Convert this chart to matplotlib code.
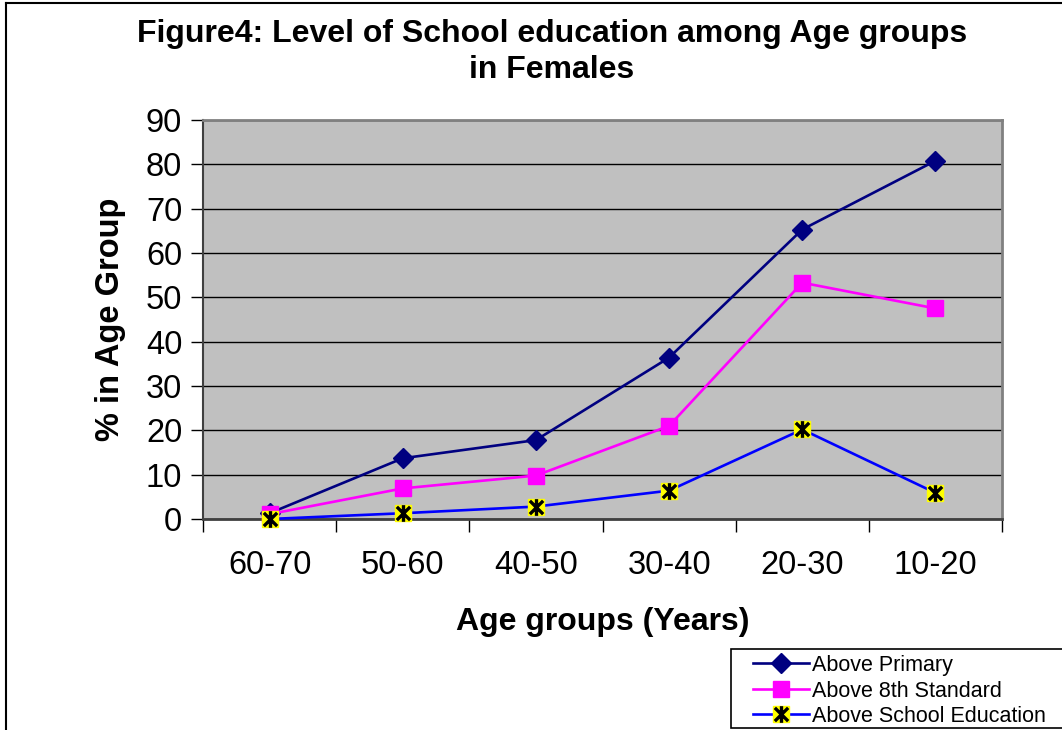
import matplotlib
matplotlib.use("Agg")
import matplotlib.pyplot as plt
from matplotlib.lines import Line2D
from matplotlib.patches import Rectangle
from matplotlib.path import Path
import numpy as np

plt.rcParams['font.family'] = ['Liberation Sans', 'DejaVu Sans']

age_groups = ["60-70", "50-60", "40-50", "30-40", "20-30", "10-20"]
above_primary = [1.3, 13.7, 17.8, 36.4, 65.3, 80.8]
above_8th = [1.1, 6.9, 9.8, 21.0, 53.3, 47.5]
above_school = [0.0, 1.3, 2.8, 6.4, 20.2, 5.9]
y_ticks = [0, 10, 20, 30, 40, 50, 60, 70, 80, 90]

W, H = 1062, 730

# asterisk made of a vertical bar and an X
star_path = Path(
    [(0, -1), (0, 1), (-0.8, -0.8), (0.8, 0.8), (-0.8, 0.8), (0.8, -0.8)],
    [Path.MOVETO, Path.LINETO, Path.MOVETO, Path.LINETO, Path.MOVETO, Path.LINETO],
)

fig = plt.figure(figsize=(W / 100, H / 100), dpi=100)
ax = fig.add_axes([203 / W, 1 - 519 / H, 799 / W, 399 / H])
ax.set_facecolor("#C0C0C0")

x = np.arange(len(age_groups))

l1, = ax.plot(x, above_primary, color="#000080", lw=1.9, marker="D", ms=10.5,
              mfc="#000080", mec="#000080", zorder=4, clip_on=False)
l2, = ax.plot(x, above_8th, color="#FF00FF", lw=1.9, marker="s", ms=11.5,
              mfc="#FF00FF", mec="#FF00FF", zorder=5, clip_on=False)
l3, = ax.plot(x, above_school, color="#0000FF", lw=1.9, marker="s", ms=11,
              mfc="#FFFF00", mec="#FFFF00", zorder=6, clip_on=False)
l3s, = ax.plot(x, above_school, ls="none", marker=star_path, ms=12,
               mec="black", mew=2.4, zorder=7, clip_on=False)

ax.set_xlim(-0.5, len(age_groups) - 0.5)
ax.set_ylim(0, 90)
ax.set_yticks(y_ticks)
ax.set_yticklabels([str(v) for v in y_ticks], fontsize=23.5)
ax.yaxis.grid(True, color="black", lw=1)
ax.set_axisbelow(True)

# category labels centred, tick marks at category boundaries
ax.set_xticks(x)
ax.set_xticklabels(age_groups, fontsize=23.5)
ax.set_xticks(np.arange(-0.5, len(age_groups)), minor=True)
ax.tick_params(axis="x", which="major", length=0, pad=22)
ax.tick_params(axis="x", which="minor", length=9, width=1, color="black", direction="out")
ax.tick_params(axis="y", length=9, width=1, color="black", direction="out", pad=6)

for side in ["top", "right"]:
    ax.spines[side].set_color("#808080")
    ax.spines[side].set_linewidth(2)
ax.spines["left"].set_color("#404040")
ax.spines["left"].set_linewidth(1.5)
ax.spines["bottom"].set_color("#404040")
ax.spines["bottom"].set_linewidth(2)

ax.set_xlabel("Age groups (Years)", fontsize=23, fontweight="bold", labelpad=19)
ax.set_ylabel("% in Age Group", fontsize=23.5, fontweight="bold", labelpad=14)

fig.text(552 / W, 1 - 52 / H, "Figure4: Level of School education among Age groups\nin Females",
         ha="center", va="center", fontsize=23, fontweight="bold", linespacing=1.28)

# legend box, running off the right edge of the chart
fig.add_artist(Rectangle((731 / W, 1 - 728 / H), 400 / W, 79 / H, transform=fig.transFigure,
                         facecolor="white", edgecolor="black", lw=1.2, zorder=9))
leg = fig.legend([l1, l2, (l3, l3s)],
                 ["Above Primary", "Above 8th Standard", "Above School Education"],
                 loc="upper left", bbox_to_anchor=(753 / W, 1 - 655 / H),
                 fontsize=15.5, frameon=False,
                 handlelength=2.6, handletextpad=0.15, borderpad=0,
                 labelspacing=0.19, borderaxespad=0, handleheight=0.9)
leg.set_zorder(10)

# outer chart border
fig.add_artist(Line2D([6 / W, 6 / W], [0, 1 - 3 / H], color="black", lw=1.5,
                      transform=fig.transFigure))
fig.add_artist(Line2D([6 / W, 1], [1 - 3 / H, 1 - 3 / H], color="black", lw=1.5,
                      transform=fig.transFigure))

fig.savefig("out.png", dpi=100)
